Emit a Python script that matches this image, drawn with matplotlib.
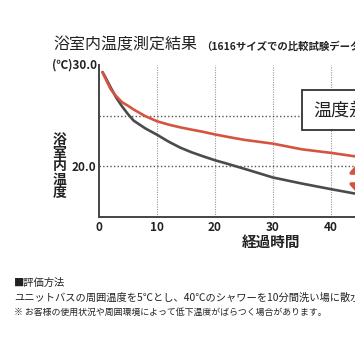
import matplotlib.pyplot as plt
from matplotlib.patches import FancyArrowPatch

plt.rcParams['font.family'] = ['Noto Sans CJK JP', 'DejaVu Sans']

# elapsed minutes and bathroom temperature (°C)
minutes = [0.6, 1, 2, 3, 4, 5, 6, 8, 10, 12, 14, 16, 18, 20, 22, 25, 30, 35, 40, 44, 47]
temp_new = [29.3, 28.8, 27.62, 26.9, 26.32, 25.98, 25.6, 24.95, 24.45, 24.12, 23.85,
            23.62, 23.4, 23.15, 22.93, 22.62, 22.24, 21.68, 21.33, 21.0, 20.8]
temp_old = [29.3, 28.9, 27.8, 26.75, 25.9, 25.15, 24.5, 23.74, 23.12, 22.44, 21.85,
            21.38, 20.98, 20.6, 20.28, 19.77, 18.9, 18.3, 17.75, 17.33, 17.05]
x_ticks = [0, 10, 20, 30, 40]
x_grid = [10, 20, 30, 40, 50, 60]
y_grid = [20, 25]

RED = '#d6543f'
GRAY = '#4b4b4b'
TXT = '#222222'

fig = plt.figure(figsize=(3.55, 3.41), dpi=100)
ax = fig.add_axes([0.2789, 0.3636, 0.980, 0.4457])

ax.plot(minutes, temp_old, color=GRAY, lw=1.9, solid_capstyle='round', zorder=3)
ax.plot(minutes, temp_new, color=RED, lw=1.9, solid_capstyle='round', zorder=4)

ax.set_xlim(0, 60)
ax.set_ylim(15, 30)

for x in x_grid:
    ax.axvline(x, color='#999999', lw=0.8, ls=(0, (1, 1.2)), zorder=1)
for y in y_grid:
    ax.axhline(y, color='#555555', lw=1.0, ls=(0, (1, 1.6)), zorder=1)

for side in ['top', 'right']:
    ax.spines[side].set_visible(False)
for side in ['left', 'bottom']:
    ax.spines[side].set_color('#444444')
    ax.spines[side].set_linewidth(1.4)

ax.set_xticks(x_ticks)
ax.set_xticklabels([str(v) for v in x_ticks], fontsize=8.5, fontweight='bold', color=TXT)
ax.tick_params(axis='x', length=0, pad=3)
ax.set_yticks([20])
ax.set_yticklabels(['20.0'], fontsize=8.5, fontweight='bold', color=TXT)
ax.tick_params(axis='y', length=0, pad=2)

ax.text(-0.4, 30, '(℃)30.0', ha='right', va='center', fontsize=8.5,
        fontweight='bold', color=TXT)
ax.text(-6.8, 20.0, '\n'.join('浴室内温度'), ha='center', va='center',
        fontsize=10, fontweight='bold', color=TXT, linespacing=0.95)
ax.text(29.7, 12.5, '経過時間', ha='center', va='center', fontsize=10.5,
        fontweight='bold', color=TXT)

# difference box and arrow
ax.text(36.9, 25.54, '温度差約4℃', ha='left', va='center', fontsize=13,
        color=TXT, zorder=6,
        bbox=dict(boxstyle='square,pad=0.6', fc='white', ec='#333333', lw=1.3))
arrow = FancyArrowPatch((45.4, 21.1), (45.4, 16.5),
                        arrowstyle='<|-|>,head_length=9,head_width=8',
                        color=RED, lw=2.5, mutation_scale=1, zorder=5)
ax.add_patch(arrow)

fig.text(53 / 355, 1 - 45 / 341, '浴室内温度測定結果', ha='left', va='center',
         fontsize=11.5, color=TXT)
fig.text(201 / 355, 1 - 47 / 341, '（1616サイズでの比較試験データ）', ha='left',
         va='center', fontsize=7.5, fontweight='bold', color=TXT)

fig.text(14 / 355, 1 - 283 / 341, '■評価方法', ha='left', va='center',
         fontsize=7.4, color=TXT)
fig.text(14 / 355, 1 - 298 / 341,
         'ユニットバスの周囲温度を5℃とし、40℃のシャワーを10分間洗い場に散水した後の浴室内温度を測定。',
         ha='left', va='center', fontsize=7.4, color=TXT)
fig.text(14 / 355, 1 - 312 / 341,
         '※ お客様の使用状況や周囲環境によって低下温度がばらつく場合があります。',
         ha='left', va='center', fontsize=6.4, color=TXT)

fig.savefig('out.png', dpi=100)
